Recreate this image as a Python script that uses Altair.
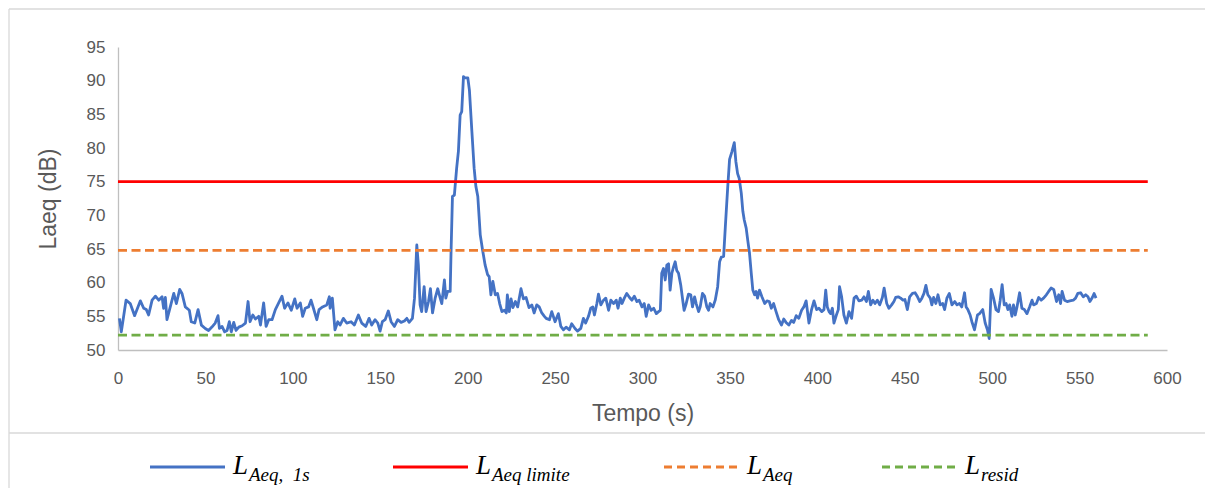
import altair as alt
import pandas as pd

# ---- data ----
time_s = [
    0.8, 1.9, 4.6, 7.0, 9.5, 12.8, 14.7, 16.2, 17.5, 19.5, 21.4, 23.3, 25.2, 26.1, 27.1, 28.0,
    29.9, 31.9, 33.4, 35.3, 36.6, 38.5, 40.8, 41.9, 43.9, 45.8, 47.7, 49.9, 51.8, 53.7, 55.6,
    57.2, 58.0, 59.5, 61.0, 62.4, 63.7, 64.8, 66.2, 67.5, 69.1, 71.0, 72.9, 74.4, 75.5, 77.1,
    78.6, 80.5, 81.5, 83.3, 84.7, 86.2, 88.1, 90.0, 91.9, 93.8, 95.3, 97.2, 99.1, 101.1, 102.4,
    104.3, 105.6, 107.1, 109.0, 110.4, 111.8, 113.7, 115.0, 117.0, 119.4, 120.9,
    121.3, 122.6, 124.1, 125.7, 127.0, 128.9, 130.8, 133.3, 135.2, 137.5, 139.4, 141.7, 143.6,
    145.1, 147.0, 148.6, 149.9, 151.2, 152.8, 154.6, 156.2, 158.1, 160.0, 161.9, 163.8, 165.2,
    166.5, 168.4, 169.6, 170.9, 171.8, 172.8, 173.7, 175.1, 176.2, 177.6, 178.7, 179.9, 181.4,
    182.9, 184.3, 185.2, 186.7, 187.5, 188.5, 190.0, 190.5, 191.3, 192.4, 193.7, 194.7, 195.7,
    196.6, 197.6, 198.5, 200.1, 201.0, 202.4, 203.7, 204.7, 205.8, 207.2, 208.5, 210.0, 211.4,
    212.3, 213.3, 214.4, 215.8, 217.1, 218.3, 219.6, 221.0, 222.1, 222.7, 223.8, 224.8, 225.9,
    227.3, 228.6, 230.5, 231.9, 233.4, 235.1, 236.7, 238.0, 239.5, 240.9, 242.4, 243.9,
    244.9, 246.8, 248.1, 250.0, 251.9, 253.3, 254.8, 256.3, 258.2, 259.5, 261.4, 262.8, 264.7,
    266.2, 267.5, 269.1, 270.4, 271.6, 272.5, 273.9, 274.8, 276.2, 277.7, 279.0, 280.6, 281.9,
    283.5, 285.0, 286.0, 287.3, 288.3, 289.6, 291.0, 292.6, 293.9, 295.3, 296.8, 298.1, 299.7,
    301.0, 302.1, 303.5, 305.0, 306.4, 307.9, 309.2, 310.2, 311.0, 312.0, 313.0, 313.9, 314.9,
    315.8, 316.8, 317.7, 318.7, 319.6, 320.6, 321.9, 323.1, 323.8, 324.8, 326.3, 327.6, 328.6,
    329.8, 330.7, 332.1, 333.0, 334.3, 335.5, 336.8, 337.8, 338.7, 340.3, 341.6, 343.0, 344.1,
    345.1, 346.4, 347.4, 348.7, 349.8, 351.2, 352.5, 353.4, 354.4, 355.3, 356.5, 357.4, 358.2,
    359.3, 360.3, 361.2, 362.2, 363.1, 364.1, 365.0, 365.8, 366.9,
    368.3, 369.9, 371.2, 372.5, 373.7, 375.0, 376.4, 377.9, 379.5, 380.8, 382.1, 383.7, 385.2,
    386.5, 387.9, 389.4, 391.0, 392.3, 393.6, 395.2, 396.7, 398.1, 399.6, 400.9, 402.5, 403.8,
    404.8, 405.7, 406.7, 407.6, 408.6, 409.5, 410.9, 412.0, 412.7, 413.9, 415.2, 416.6, 418.1,
    419.6, 421.0, 422.3, 423.8, 425.4, 426.7, 428.1, 429.2, 430.5, 431.8, 433.0, 434.3, 435.7,
    437.2, 438.2, 439.7, 440.9, 442.5, 443.8, 444.8, 446.3, 447.7, 449.0, 450.1, 451.5, 452.8,
    454.4, 455.9, 457.3, 458.6, 459.8, 461.0, 462.1, 463.2, 464.6, 465.5, 466.5, 467.8, 469.0,
    470.3, 471.7, 472.8, 474.1, 475.5, 477.0, 478.6, 479.9, 481.3, 482.6, 484.2, 485.1, 486.1,
    487.4, 488.4, 489.9,
    491.6, 492.8, 494.6, 496.0, 497.3, 498.3, 499.4, 500.8, 502.2, 503.6, 504.6, 505.7, 506.9,
    508.0, 509.0, 510.0, 511.3, 512.2, 513.2, 514.2, 515.7, 517.0, 518.4, 519.9, 521.4, 522.8,
    523.7, 525.3, 526.6, 528.0, 529.4, 531.0, 532.3, 533.7, 535.2, 536.8, 538.1, 539.1, 540.0,
    541.4, 542.9, 544.4, 546.4, 547.7, 549.0, 550.6, 552.1, 553.5, 554.8, 555.9, 557.3, 558.3,
    559.4,
]

laeq_1s = [
    54.7, 52.7, 57.4, 56.9, 55.1, 57.3, 56.2, 56.0, 55.2, 57.4, 58.0, 57.4, 57.9, 56.2, 57.8, 54.5,
    56.4, 58.4, 56.9, 59.0, 58.4, 56.4, 55.9, 54.2, 54.0, 56.0, 53.7, 53.2, 52.9, 53.4, 54.0,
    55.1, 53.2, 53.5, 52.7, 52.9, 54.2, 52.7, 54.1, 52.9, 53.4, 53.6, 54.0, 57.2, 54.2, 55.2,
    54.6, 55.0, 53.7, 57.0, 53.5, 54.5, 54.5, 56.0, 57.0, 58.0, 56.2, 57.0, 55.9, 57.6, 56.2,
    57.0, 55.0, 56.2, 56.4, 57.4, 56.2, 54.5, 56.0, 56.4, 56.7, 57.9,
    56.2, 57.7, 53.0, 54.2, 53.7, 54.7, 54.0, 54.2, 53.7, 55.2, 54.0, 53.5, 54.7,
    53.7, 54.5, 54.0, 52.8, 54.2, 54.5, 55.8, 54.2, 53.5, 54.5, 54.1, 54.3, 54.7,
    54.1, 54.7, 57.7, 65.6, 62.6, 56.7, 55.7, 59.4, 55.7, 57.2, 59.1, 55.5, 57.7,
    59.1, 57.7, 56.9, 60.4, 57.7, 58.7, 58.7, 64.6, 72.8, 73.0, 77.0, 79.5, 84.9,
    85.4, 90.6, 90.4, 90.4, 88.6, 82.5, 77.0, 74.3, 72.8, 67.1, 64.9, 62.6, 61.2,
    60.9, 58.2, 60.2, 58.2, 58.4, 56.9, 55.7, 55.9, 55.5, 58.2, 55.7, 57.6, 56.3,
    57.2, 56.4, 59.1, 57.6, 57.8, 56.3, 56.7, 55.5, 56.7, 56.4, 55.5, 55.0,
    54.7, 54.5, 55.7, 54.2, 55.4, 53.5, 53.0, 53.4, 53.0, 53.9, 53.2, 52.8, 53.2,
    54.7, 54.0, 55.0, 56.2, 56.4, 55.2, 56.9, 58.3, 56.7, 57.4, 57.7, 55.9, 57.4,
    56.9, 57.4, 56.2, 57.7, 56.9, 57.7, 58.4, 57.8, 57.4, 58.0, 57.2, 57.4, 56.4,
    56.9, 55.0, 56.7, 55.9, 56.2, 55.4, 55.7, 55.9, 61.4, 62.1, 60.4, 62.6, 62.8,
    58.9, 61.4, 62.3, 63.1, 61.8, 61.4, 59.6, 57.2, 55.9, 56.7, 58.3, 58.2, 56.4,
    57.9, 56.9, 55.7, 56.4, 58.4, 58.0, 56.4, 55.9, 56.9, 56.4, 57.4, 59.4, 63.1,
    63.8, 63.9, 68.4, 74.0, 78.3, 79.5, 80.8, 78.0, 76.2, 75.5, 73.3, 70.6, 69.3,
    68.1, 66.1, 64.4, 61.4, 58.9, 58.2, 58.7, 57.7, 58.9,
    57.9, 56.9, 57.3, 57.2, 56.2, 56.9, 55.7, 54.5, 53.7, 54.6, 54.1, 53.7, 54.4,
    54.1, 55.1, 54.7, 55.9, 56.4, 57.3, 54.0, 56.0, 57.3, 56.0, 56.2, 55.7, 56.0,
    58.9, 56.4, 55.7, 55.4, 56.2, 54.0, 55.2, 56.0, 59.4, 57.9, 55.2, 54.0, 55.7,
    54.7, 57.7, 58.0, 57.3, 57.4, 57.9, 57.2, 58.7, 56.7, 57.4, 56.9, 57.4, 56.7,
    57.8, 59.2, 56.9, 56.2, 56.7, 57.2, 57.8, 57.9, 57.7, 57.4, 57.5, 56.0, 57.9,
    58.4, 58.5, 57.9, 57.2, 57.7, 58.4, 59.6, 58.2, 57.7, 56.7, 57.8, 56.9, 58.2,
    56.7, 56.9, 56.0, 57.7, 58.4, 56.7, 57.2, 56.7, 56.9, 56.4, 58.5, 56.4, 56.0,
    55.2, 54.2, 53.0,
    55.2, 55.4, 56.0, 54.0, 53.0, 51.7, 59.0, 57.7, 56.0, 55.7, 57.4, 59.7, 56.7,
    56.9, 56.0, 56.7, 55.0, 56.7, 55.2, 56.4, 58.5, 56.2, 56.0, 55.4, 56.4, 57.4,
    56.7, 56.9, 57.8, 57.4, 57.7, 58.2, 58.7, 59.2, 59.0, 57.2, 58.2, 56.9, 58.7,
    57.4, 57.2, 57.3, 57.4, 57.7, 58.4, 58.5, 57.9, 58.2, 57.9, 57.2, 57.8, 58.4,
    57.7,
]

ref_names = ["LAeq limite", "LAeq", "Lresid"]
ref_levels = [75.0, 64.8, 52.2]
ref_start = [0, 0, 0]
ref_end = [589, 589, 589]

x_ticks = [0, 50, 100, 150, 200, 250, 300, 350, 400, 450, 500, 550, 600]
y_ticks = [50, 55, 60, 65, 70, 75, 80, 85, 90, 95]

legend_main = ["L", "L", "L", "L"]
legend_sub = ["Aeq,\u00a0\u00a01s", "Aeq limite", "Aeq", "resid"]

# ---- styling ----
BLUE, RED, ORANGE, GREEN = "#4472C4", "#FF0000", "#ED7D31", "#70AD47"
GRAY_TXT = "#595959"
BORDER = "#D9D9D9"
AX_FONT = "Liberation Sans"
W, H = 1049, 303

df = pd.DataFrame({"t": time_s, "laeq": laeq_1s})
ref_df = pd.DataFrame({"name": ref_names, "level": ref_levels,
                       "x0": ref_start, "x1": ref_end})

x_scale = alt.Scale(domain=[0, 600], nice=False, zero=False)
y_scale = alt.Scale(domain=[50, 95], nice=False, zero=False)

x_axis = alt.Axis(values=x_ticks, title="Tempo (s)", grid=False, ticks=False,
                  domainColor="#BFBFBF", domainWidth=1.3,
                  labelFont=AX_FONT, labelFontSize=17, labelColor=GRAY_TXT,
                  labelPadding=20, labelFlush=False, labelOverlap=False,
                  titleFont=AX_FONT, titleFontSize=23, titleFontWeight="normal",
                  titleColor=GRAY_TXT, titleY=63, titleBaseline="middle")
y_axis = alt.Axis(values=y_ticks, title="Laeq (dB)", grid=False, ticks=False,
                  domainColor="#BFBFBF", domainWidth=1.3,
                  labelFont=AX_FONT, labelFontSize=17, labelColor=GRAY_TXT,
                  labelPadding=13, labelFlush=False, labelOverlap=False,
                  titleFont=AX_FONT, titleFontSize=23, titleFontWeight="normal",
                  titleColor=GRAY_TXT, titleX=-70, titleY=H / 2,
                  titleAngle=-90, titleAlign="center", titleBaseline="middle")

one = pd.DataFrame({"a": [0]})

# chart-area and legend-area borders (right edge lies off the page)
frame = [
    alt.Chart(one).mark_rule(color=BORDER, strokeWidth=1.3).encode(
        x=alt.value(-109), x2=alt.value(1087), y=alt.value(-38)),
    alt.Chart(one).mark_rule(color=BORDER, strokeWidth=1.3).encode(
        x=alt.value(-109), x2=alt.value(1087), y=alt.value(386)),
    alt.Chart(one).mark_rule(color=BORDER, strokeWidth=1.3).encode(
        x=alt.value(-109), y=alt.value(-38), y2=alt.value(600)),
]

series = alt.Chart(df).mark_line(color=BLUE, strokeWidth=2.8, strokeJoin="round").encode(
    x=alt.X("t:Q", scale=x_scale, axis=x_axis),
    y=alt.Y("laeq:Q", scale=y_scale, axis=y_axis),
)

refs = alt.Chart(ref_df).mark_rule(strokeWidth=2.8).encode(
    x=alt.X("x0:Q", scale=x_scale, axis=x_axis),
    x2="x1:Q",
    y=alt.Y("level:Q", scale=y_scale, axis=y_axis),
    color=alt.Color("name:N", scale=alt.Scale(domain=ref_names, range=[RED, ORANGE, GREEN]),
                    legend=None),
    strokeDash=alt.StrokeDash("name:N", scale=alt.Scale(domain=ref_names,
                              range=[[1, 0], [9, 4.5], [9, 4.5]]), legend=None),
)

# custom legend (below the plot, as in the reference)
leg_colors = [BLUE, RED, ORANGE, GREEN]
leg_dash = [[1, 0], [1, 0], [8, 5], [8, 5]]
leg_x = [32, 275, 546, 764]
legend_layers = []
for i in range(4):
    lx = leg_x[i]
    legend_layers.append(
        alt.Chart(one).mark_rule(color=leg_colors[i], strokeWidth=2.8,
                                 strokeDash=leg_dash[i]).encode(
            x=alt.value(lx), x2=alt.value(lx + 75), y=alt.value(420))
    )
    legend_layers.append(
        alt.Chart(one).mark_text(text=legend_main[i], font="Liberation Serif",
                                 fontStyle="italic", fontSize=27, align="left",
                                 baseline="alphabetic", color="#000000").encode(
            x=alt.value(lx + 83), y=alt.value(427))
    )
    legend_layers.append(
        alt.Chart(one).mark_text(text=legend_sub[i], font="Liberation Serif",
                                 fontStyle="italic", fontSize=19, align="left",
                                 baseline="alphabetic", color="#000000").encode(
            x=alt.value(lx + 99), y=alt.value(434))
    )

chart = alt.layer(series, refs, *frame, *legend_layers).properties(
    width=W, height=H,
    autosize=alt.AutoSizeParams(type="none"),
    padding={"left": 110, "top": 39, "right": 38, "bottom": 138},
).configure_view(strokeWidth=0)

chart.save("out.html", embed_options={"renderer": "svg", "actions": False})
